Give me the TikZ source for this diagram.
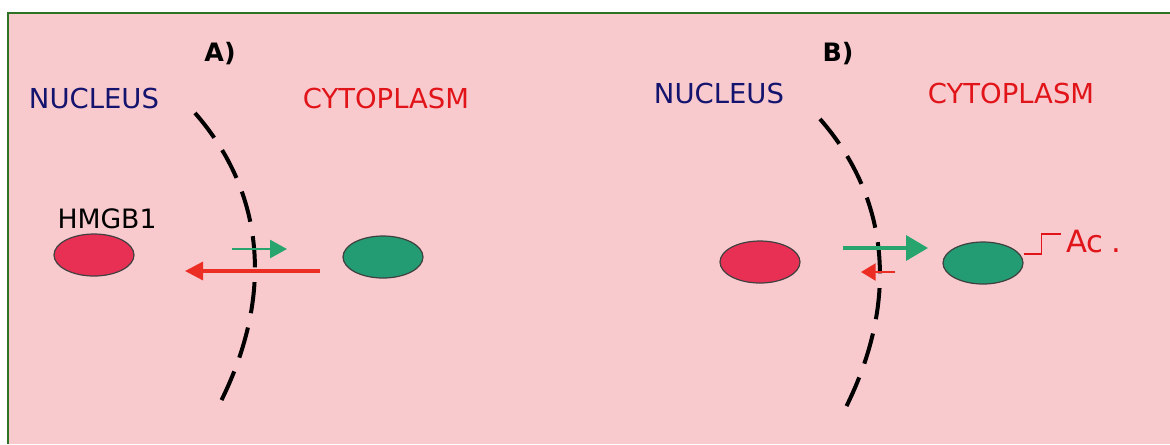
\documentclass[tikz,border=0pt]{standalone}
\usepackage{fontspec}
\setmainfont{DejaVu Sans}
\usetikzlibrary{arrows.meta,shapes.geometric}

\definecolor{cellpink}{RGB}{248,202,206}
\definecolor{framegreen}{RGB}{45,115,35}
\definecolor{nucnavy}{RGB}{20,20,110}
\definecolor{cytored}{RGB}{225,20,25}
\definecolor{hmgred}{RGB}{232,48,85}
\definecolor{hmggreen}{RGB}{35,155,115}
\definecolor{outgreen}{RGB}{40,165,110}
\definecolor{inred}{RGB}{235,45,35}

\begin{document}
\begin{tikzpicture}[
  x=0.75pt, y=-0.75pt,
  compartment/.style={font=\fontsize{20.6}{24}\selectfont, inner sep=0pt},
  panel/.style={font=\fontsize{19}{22}\selectfont\bfseries, inner sep=0pt},
  protein/.style={draw=black!75, line width=0.9pt, ellipse, inner sep=0pt,
                  minimum width=60pt, minimum height=31.5pt},
  membrane/.style={line width=3pt, dash pattern=on 23.5pt off 11pt},
  export/.style={outgreen, line width=2.1pt, -{Triangle[length=12.75pt, width=13.5pt]}},
  bigexport/.style={outgreen, line width=2.6pt, -{Triangle[length=16.5pt, width=18.75pt]}},
  import/.style={inred, line width=2.4pt, -{Triangle[length=13.5pt, width=13.5pt]}},
  smallimport/.style={inred, line width=1.8pt, -{Triangle[length=11pt, width=12.75pt]}},
  acetyl/.style={cytored, line width=1.3pt}
]
  \useasboundingbox (0,0) rectangle (1170,444);
  \fill[white] (0,0) rectangle (1170,444);
  \fill[cellpink] (8,13) rectangle (1170,444);
  \draw[framegreen, line width=1.2pt] (8,444) -- (8,13) -- (1170,13);

  \node[panel] (labA) at (220,54) {A)};
  \node[compartment, text=nucnavy] (nucA) at (94,98) {NUCLEUS};
  \node[compartment, text=cytored] (cytA) at (386,98) {CYTOPLASM};
  \node[font=\fontsize{20}{24}\selectfont, inner sep=0pt] (hmgb) at (107,219) {HMGB1};
  \node[protein, fill=hmgred] (nuclearA) at (94,255) {};
  \node[protein, fill=hmggreen] (cytoA) at (383,257) {};
  \draw[membrane] (195,113) .. controls (265,193) and (275,297) .. (218,407);

  \coordinate (outA1) at (232,249);
  \coordinate (outA2) at (287,249);
  \coordinate (inA1) at (320,271);
  \coordinate (inA2) at (185,271);
  \draw[export] (outA1) -- (outA2);
  \draw[import] (inA1) -- (inA2);

  \node[panel] (labB) at (838,54) {B)};
  \node[compartment, text=nucnavy] (nucB) at (719,93) {NUCLEUS};
  \node[compartment, text=cytored] (cytB) at (1011,93) {CYTOPLASM};
  \node[protein, fill=hmgred] (nuclearB) at (760,262) {};
  \node[protein, fill=hmggreen] (cytoB) at (983,263) {};
  \draw[membrane] (820,119) .. controls (890,199) and (900,303) .. (843,413);

  \coordinate (outB1) at (843,248);
  \coordinate (outB2) at (928,248);
  \coordinate (inB1) at (895,272);
  \coordinate (inB2) at (861,272);
  \draw[bigexport] (outB1) -- (outB2);
  \draw[smallimport] (inB1) -- (inB2);

  \node[font=\fontsize{23}{26}\selectfont, text=cytored, anchor=west, inner sep=0pt]
       (ac) at (1066,242) {Ac\kern6pt.};
  \draw[acetyl] ([yshift=6.75pt]cytoB.east) -| ++(18,-20) -- ++(19,0);
\end{tikzpicture}
\end{document}
